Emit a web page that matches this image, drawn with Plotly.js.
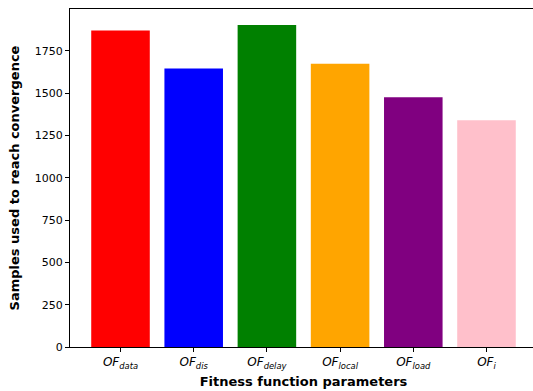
<!DOCTYPE html>
<html>
<head>
<meta charset="utf-8">
<script src="https://cdn.plot.ly/plotly-3.0.1.min.js"></script>
<style>
html, body { margin: 0; padding: 0; overflow: hidden; background: #fff; }
#chart { width: 545px; height: 391px; }
</style>
</head>
<body>
<div id="chart"></div>
<script>
const categories = ["OF_data", "OF_dis", "OF_delay", "OF_local", "OF_load", "OF_i"];
const tickLabels = [
  "<i>OF</i><sub><i>data</i></sub>",
  "<i>OF</i><sub><i>dis</i></sub>",
  "<i>OF</i><sub><i>delay</i></sub>",
  "<i>OF</i><sub><i>local</i></sub>",
  "<i>OF</i><sub><i>load</i></sub>",
  "<i>OF</i><sub><i>i</i></sub>"
];
const samples = [1870, 1645, 1902, 1673, 1476, 1340];
const barColors = ["red", "blue", "green", "orange", "purple", "pink"];
const yTicks = [0, 250, 500, 750, 1000, 1250, 1500, 1750];

const xIdx = categories.map((_, i) => i);

const trace = {
  type: "bar",
  x: xIdx,
  y: samples,
  width: 0.8,
  marker: { color: barColors, line: { width: 0 } },
  hoverinfo: "skip"
};

const layout = {
  width: 545,
  height: 391,
  margin: { l: 70, r: 8, t: 9, b: 44 },
  paper_bgcolor: "#fff",
  plot_bgcolor: "#fff",
  font: { family: "DejaVu Sans", size: 11, color: "#000" },
  showlegend: false,
  xaxis: {
    range: [-0.69, 5.69],
    tickmode: "array",
    tickvals: xIdx,
    ticktext: tickLabels,
    tickfont: { size: 12 },
    ticks: "outside",
    ticklen: 4,
    tickcolor: "#000",
    showline: true,
    linecolor: "#000",
    linewidth: 1,
    mirror: true,
    showgrid: false,
    zeroline: false,
    title: { text: "<b>Fitness function parameters</b>", font: { size: 13 }, standoff: 6 },
    automargin: false
  },
  yaxis: {
    range: [0, 1997],
    tickmode: "array",
    tickvals: yTicks,
    tickfont: { size: 11 },
    ticks: "outside",
    ticklen: 4,
    tickcolor: "#000",
    showline: true,
    linecolor: "#000",
    linewidth: 1,
    mirror: true,
    showgrid: false,
    zeroline: false,
    title: { text: "<b>Samples used to reach convergence</b>", font: { size: 13 }, standoff: 12 },
    automargin: false
  }
};

Plotly.newPlot("chart", [trace], layout, { displayModeBar: false, staticPlot: true });
</script>
</body>
</html>
